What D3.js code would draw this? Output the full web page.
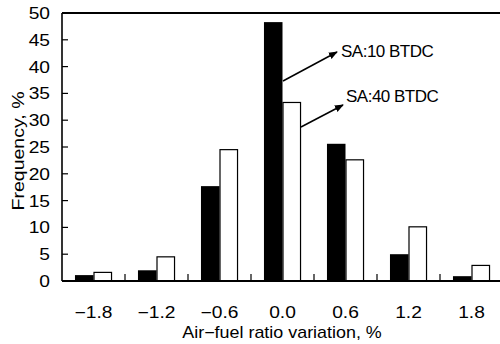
<!DOCTYPE html>
<html>
<head>
<meta charset="utf-8">
<script src="https://cdn.jsdelivr.net/npm/d3@7/dist/d3.min.js"></script>
<style>
  body { margin: 0; background: #fff; }
  svg { display: block; font-family: "Liberation Sans", Arial, sans-serif; }
</style>
</head>
<body>
<div id="chart"></div>
<script>
// data
var categories = ["-1.8", "-1.2", "-0.6", "0.0", "0.6", "1.2", "1.8"];
var seriesNames = ["SA:10 BTDC", "SA:40 BTDC"];
var sa10 = [1.1, 2.0, 17.7, 48.3, 25.6, 5.0, 0.9];
var sa40 = [1.7, 4.6, 24.6, 33.4, 22.7, 10.2, 3.0];
var yTicks = [0, 5, 10, 15, 20, 25, 30, 35, 40, 45, 50];

var width = 500, height = 344;
var plotLeft = 62, plotRight = 503, plotTop = 13, plotBottom = 281;
var stretch = 1.2; // the reference text is a bit wider than Arial

var svg = d3.select("#chart").append("svg")
    .attr("width", width)
    .attr("height", height);

var x = d3.scaleBand().domain(categories).range([plotLeft, plotRight]).paddingInner(0).paddingOuter(0);
var xs = d3.scaleBand().domain(seriesNames).range([0, x.bandwidth()]).paddingInner(0).paddingOuter(0.7);
var y = d3.scaleLinear().domain([0, 50]).range([plotBottom, plotTop]);

var rows = categories.map(function (c, i) {
    return { cat: c, values: [sa10[i], sa40[i]] };
});

// bars
var groups = svg.append("g").selectAll("g").data(rows).enter().append("g")
    .attr("transform", function (d) { return "translate(" + x(d.cat) + ",0)"; });

groups.selectAll("rect").data(function (d) {
    return d.values.map(function (v, j) { return { name: seriesNames[j], value: v, j: j }; });
}).enter().append("rect")
    .attr("x", function (d) { return xs(d.name) + (d.j === 0 ? 0 : 0.5); })
    .attr("y", function (d) { return y(d.value) + (d.j === 0 ? 0 : 0.5); })
    .attr("width", function (d) { return xs.bandwidth() - (d.j === 0 ? 0 : 1); })
    .attr("height", function (d) { return plotBottom - y(d.value) - (d.j === 0 ? 0 : 0.5); })
    .attr("fill", function (d) { return d.j === 0 ? "#000" : "#fff"; })
    .attr("stroke", function (d) { return d.j === 0 ? "none" : "#000"; })
    .attr("stroke-width", 1.2);

// frame: left axis, top line, bottom axis
svg.append("line").attr("x1", plotLeft).attr("x2", plotLeft).attr("y1", plotTop).attr("y2", plotBottom)
    .attr("stroke", "#000").attr("stroke-width", 1.6);
svg.append("line").attr("x1", plotLeft).attr("x2", width).attr("y1", plotTop).attr("y2", plotTop)
    .attr("stroke", "#000").attr("stroke-width", 1.8);
svg.append("line").attr("x1", plotLeft).attr("x2", width).attr("y1", plotBottom).attr("y2", plotBottom)
    .attr("stroke", "#000").attr("stroke-width", 2);

// y ticks (pointing inside) and labels
svg.append("g").selectAll("line").data(yTicks).enter().append("line")
    .attr("x1", plotLeft).attr("x2", plotLeft + 6)
    .attr("y1", function (d) { return y(d); }).attr("y2", function (d) { return y(d); })
    .attr("stroke", "#000").attr("stroke-width", 1.2);

svg.append("g").selectAll("text").data(yTicks).enter().append("text")
    .attr("transform", function (d) { return "translate(50," + (y(d) + 6) + ") scale(" + stretch + ",1)"; })
    .attr("text-anchor", "end")
    .attr("font-size", 16)
    .text(function (d) { return d; });

// x ticks between groups (pointing inside)
svg.append("g").selectAll("line").data(categories.slice(1)).enter().append("line")
    .attr("x1", function (d) { return x(d); }).attr("x2", function (d) { return x(d); })
    .attr("y1", plotBottom).attr("y2", plotBottom - 7)
    .attr("stroke", "#000").attr("stroke-width", 1.2);

svg.append("g").selectAll("text").data(categories).enter().append("text")
    .attr("transform", function (d) { return "translate(" + (x(d) + x.bandwidth() / 2) + ",318) scale(" + stretch + ",1)"; })
    .attr("text-anchor", "middle")
    .attr("font-size", 16)
    .text(function (d) { return d.replace("-", "\u2212"); });

// axis titles
svg.append("text")
    .attr("transform", "translate(282,338) scale(1.12,1)")
    .attr("text-anchor", "middle")
    .attr("font-size", 16)
    .text("Air\u2212fuel ratio variation, %");

svg.append("text")
    .attr("transform", "translate(24,151) rotate(-90) scale(1.15,1)")
    .attr("text-anchor", "middle")
    .attr("font-size", 17)
    .text("Frequency, %");

// annotations with arrows
svg.append("defs").append("marker")
    .attr("id", "arrow")
    .attr("viewBox", "0 0 10 10")
    .attr("refX", 9).attr("refY", 5)
    .attr("markerWidth", 6).attr("markerHeight", 6)
    .attr("orient", "auto")
    .append("path").attr("d", "M0,1L10,5L0,9Z").attr("fill", "#000");

var notes = [
    { text: seriesNames[0], x1: 283, y1: 81, x2: 337, y2: 52, tx: 341, ty: 57 },
    { text: seriesNames[1], x1: 301, y1: 127, x2: 343, y2: 105, tx: 346, ty: 102 }
];

svg.append("g").selectAll("line").data(notes).enter().append("line")
    .attr("x1", function (d) { return d.x1; }).attr("y1", function (d) { return d.y1; })
    .attr("x2", function (d) { return d.x2; }).attr("y2", function (d) { return d.y2; })
    .attr("stroke", "#000").attr("stroke-width", 1.5)
    .attr("marker-end", "url(#arrow)");

svg.append("g").selectAll("text").data(notes).enter().append("text")
    .attr("x", function (d) { return d.tx; }).attr("y", function (d) { return d.ty; })
    .attr("font-size", 17)
    .attr("letter-spacing", -0.5)
    .text(function (d) { return d.text; });
</script>
</body>
</html>
